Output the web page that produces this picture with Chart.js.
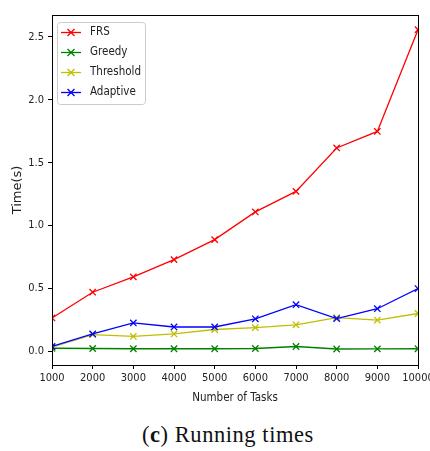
<!DOCTYPE html>
<html>
<head>
<meta charset="utf-8">
<script src="https://cdn.jsdelivr.net/npm/chart.js@4/dist/chart.umd.min.js"></script>
<style>
  html, body { margin: 0; padding: 0; background: #fff; }
  #wrap { position: relative; width: 430px; height: 451px; overflow: hidden; }
  #chart { position: absolute; left: 0; top: 0; }
  #caption {
    position: absolute; left: 142px; top: 422px; white-space: nowrap;
    font-family: "Liberation Serif", serif; font-size: 22.5px; letter-spacing: 0.55px; color: #111;
  }
</style>
</head>
<body>
<div id="wrap">
  <canvas id="chart" width="430" height="412"></canvas>
  <div id="caption">(<b>c</b>) Running times</div>
</div>
<script>
// valores
const taskCounts = [1000, 2000, 3000, 4000, 5000, 6000, 7000, 8000, 9000, 10000];
const frsTimes = [0.267, 0.471, 0.593, 0.730, 0.889, 1.109, 1.272, 1.617, 1.748, 2.556];
const greedyTimes = [0.026, 0.024, 0.022, 0.022, 0.022, 0.024, 0.040, 0.020, 0.021, 0.022];
const thresholdTimes = [0.035, 0.135, 0.120, 0.140, 0.175, 0.190, 0.212, 0.270, 0.250, 0.302];
const adaptiveTimes = [0.040, 0.140, 0.227, 0.195, 0.195, 0.260, 0.372, 0.262, 0.340, 0.500];
const yTickValues = [0.0, 0.5, 1.0, 1.5, 2.0, 2.5];

const seriesNames = ['FRS', 'Greedy', 'Threshold', 'Adaptive'];
const seriesColors = ['#ff0000', '#008000', '#bfbf00', '#0000ff'];
const seriesValues = [frsTimes, greedyTimes, thresholdTimes, adaptiveTimes];

const tickFont = { family: '"DejaVu Sans Condensed", "DejaVu Sans", sans-serif', size: 11 };

const buildPoints = (values) => taskCounts.map((x, i) => ({ x: x, y: values[i] }));

const datasets = seriesNames.map((name, i) => ({
    label: name,
    data: buildPoints(seriesValues[i]),
    borderColor: seriesColors[i],
    backgroundColor: seriesColors[i],
    borderWidth: 1.3,
    pointStyle: 'crossRot',
    pointRadius: 4.5,
    pointBorderWidth: 1.3,
    pointHoverRadius: 4.5,
    tension: 0,
    clip: 0,
    order: seriesNames.length - i
}));

// moldura do eixo (lados de cima e direita)
const framePlugin = {
    id: 'frame',
    afterDatasetsDraw: (chart) => {
        const { ctx, chartArea } = chart;
        ctx.save();
        ctx.strokeStyle = '#000';
        ctx.lineWidth = 1;
        ctx.strokeRect(Math.round(chartArea.left) + 0.5, Math.round(chartArea.top) + 0.5,
            Math.round(chartArea.right - chartArea.left), Math.round(chartArea.bottom - chartArea.top));
        ctx.restore();
    }
};

// legenda dentro da area do grafico, estilo matplotlib
const legendPlugin = {
    id: 'innerLegend',
    afterDraw: (chart) => {
        const ctx = chart.ctx;
        const area = chart.chartArea;
        const x0 = area.left + 5, y0 = area.top + 7;
        const w = 88, h = 82;
        ctx.save();
        ctx.beginPath();
        ctx.roundRect(x0 + 0.5, y0 + 0.5, w, h, 3);
        ctx.fillStyle = 'rgba(255,255,255,0.8)';
        ctx.fill();
        ctx.strokeStyle = '#cccccc';
        ctx.lineWidth = 1;
        ctx.stroke();
        ctx.font = '11.5px "DejaVu Sans Condensed", "DejaVu Sans", sans-serif';
        ctx.textBaseline = 'middle';
        chart.data.datasets.forEach((ds, i) => {
            const y = y0 + 10.5 + i * 20;
            ctx.strokeStyle = ds.borderColor;
            ctx.lineWidth = 1.3;
            ctx.beginPath();
            ctx.moveTo(x0 + 4, y);
            ctx.lineTo(x0 + 24, y);
            ctx.stroke();
            const mx = x0 + 14, r = 3.5;
            ctx.beginPath();
            ctx.moveTo(mx - r, y - r); ctx.lineTo(mx + r, y + r);
            ctx.moveTo(mx - r, y + r); ctx.lineTo(mx + r, y - r);
            ctx.stroke();
            ctx.fillStyle = '#222';
            ctx.fillText(ds.label, x0 + 33, y);
        });
        ctx.restore();
    }
};

new Chart(document.getElementById('chart'), {
    type: 'line',
    data: { datasets: datasets },
    options: {
        responsive: false,
        animation: false,
        events: [],
        layout: { padding: { top: 15, right: 12, left: 0, bottom: 0 } },
        plugins: { legend: { display: false }, tooltip: { enabled: false } },
        scales: {
            x: {
                type: 'linear',
                min: 1000,
                max: 10000,
                afterBuildTicks: (scale) => { scale.ticks = taskCounts.map(v => ({ value: v })); },
                afterFit: (scale) => { scale.height = 47; scale.paddingLeft = 0; scale.paddingRight = 0; },
                ticks: {
                    autoSkip: false,
                    maxRotation: 0,
                    padding: 3,
                    color: '#222',
                    font: tickFont,
                    callback: (v) => String(v)
                },
                grid: { drawOnChartArea: false, tickLength: 4, color: '#000', tickWidth: 1 },
                border: { display: true, color: '#000', width: 1 },
                title: {
                    display: true,
                    text: 'Number of Tasks',
                    color: '#222',
                    font: { family: tickFont.family, size: 11.5 },
                    padding: { top: 2, bottom: 7 }
                }
            },
            y: {
                type: 'linear',
                min: -0.107,
                max: 2.673,
                afterBuildTicks: (scale) => { scale.ticks = yTickValues.map(v => ({ value: v })); },
                afterFit: (scale) => { scale.width = 52; scale.paddingTop = 0; scale.paddingBottom = 0; },
                ticks: {
                    padding: 4,
                    color: '#222',
                    font: tickFont,
                    callback: (v) => Number(v).toFixed(1)
                },
                grid: { drawOnChartArea: false, tickLength: 4, color: '#000', tickWidth: 1 },
                border: { display: true, color: '#000', width: 1 },
                title: {
                    display: true,
                    text: 'Time(s)',
                    color: '#222',
                    font: { family: '"DejaVu Sans", sans-serif', size: 13 },
                    padding: { top: 10, bottom: 0 }
                }
            }
        }
    },
    plugins: [framePlugin, legendPlugin]
});
</script>
</body>
</html>
